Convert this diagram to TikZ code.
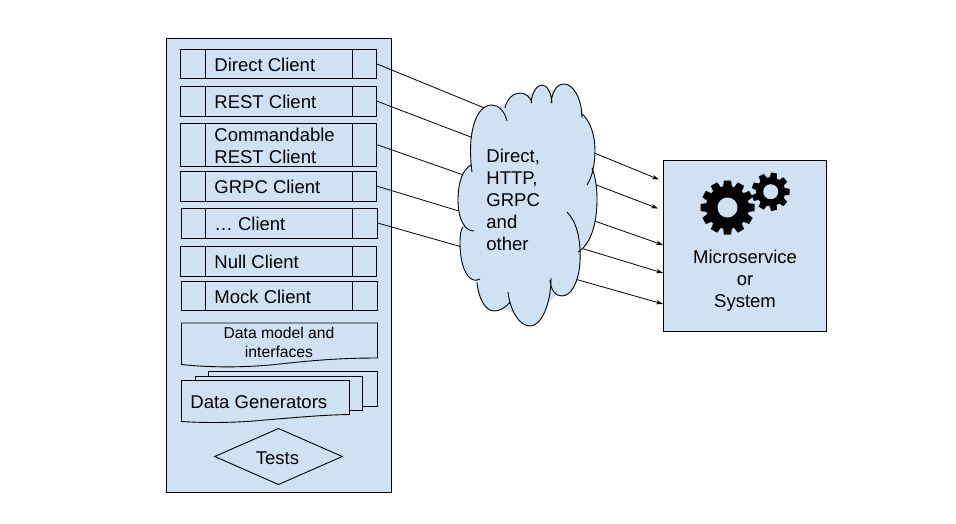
\documentclass[tikz,border=0pt]{standalone}
\usepackage{fontspec}
\setmainfont{Liberation Sans}
\usetikzlibrary{arrows.meta, shapes.geometric}
\definecolor{paleblue}{HTML}{CFE2F3}
\newcommand{\cloudlobes}{
	(472,172) .. controls (467,135) and (475,105) .. (492,105) .. controls (499,105) and (505,112) .. (507,121)
	(505,108) .. controls (507,98) and (514,93) .. (520,93) .. controls (525,93) and (530,96) .. (532,103)
	(531,103) .. controls (532,92) and (537,85) .. (542,85) .. controls (547,85) and (551,92) .. (552,103)
	(551,103) .. controls (552,93) and (556,84) .. (564,84) .. controls (574,84) and (582,100) .. (582,118)
	(581,113) .. controls (590,120) and (595,135) .. (595,150) .. controls (595,165) and (592,177) .. (587,185)
	(592,168) .. controls (596,178) and (597,190) .. (597,200) .. controls (597,225) and (590,245) .. (578,252)
	(567,212) .. controls (577,222) and (581,240) .. (580,262) .. controls (579,280) and (572,296) .. (562,296) .. controls (555,296) and (551,290) .. (550,280)
	(551,278) .. controls (551,305) and (541,326) .. (530,326) .. controls (519,326) and (510,310) .. (508,292)
	(510,302) .. controls (505,308) and (500,311) .. (494,311) .. controls (485,311) and (478,297) .. (477,282)
	(480,279) .. controls (470,285) and (460,270) .. (460,243) .. controls (460,235) and (461,229) .. (463,227)
	(474,231) .. controls (464,231) and (458,218) .. (458,200) .. controls (458,182) and (463,169) .. (471,165)
}
\begin{document}
\begin{tikzpicture}[x=1pt, y=-1pt, line width=.9pt,
	shapebox/.style={draw=black, fill=paleblue, outer sep=0pt, inner sep=0pt},
	paper/.style={draw=black, fill=paleblue},
	label/.style={font=\fontsize{18.5}{22}\selectfont, align=left, inner sep=0pt},
	smalllabel/.style={font=\fontsize{15.7}{19}\selectfont, align=center, inner sep=0pt},
	centerlabel/.style={font=\fontsize{18.5}{22}\selectfont, align=center, inner sep=0pt},
	connector/.style={-{Stealth[length=7pt, width=4.5pt]}, line width=.8pt}]
	\useasboundingbox (0,0) rectangle (956,523);
	\node[shapebox, minimum width=225pt, minimum height=454pt] (panel) at (279,265.5) {};
	\node[shapebox, minimum width=163pt, minimum height=170.5pt] (service) at (745,245.75) {};
	% clients
	\foreach \name/\cx/\cy/\ch/\ctext in {
		direct/278.5/63.75/28.5/Direct Client,
		rest/278.5/101/30/REST Client,
		commandable/278.5/144.5/43/{Commandable\\REST Client},
		grpc/278.5/186/30/GRPC Client,
		other/279.5/223/30/\ldots{} Client,
		nullc/278.5/261/30/Null Client,
		mock/279.5/296/29/Mock Client} {
		\node[shapebox, minimum width=196pt, minimum height=\ch pt] (\name) at (\cx,\cy) {};
		\draw (205.5,\cy-\ch/2) -- (205.5,\cy+\ch/2);
		\draw (352.5,\cy-\ch/2) -- (352.5,\cy+\ch/2);
		\node[label, anchor=west] (\name-label) at (214,\cy+1) {\ctext};
	}
	% documents
	\draw[paper] (181.5,323) -- (377.5,323) -- (377.5,358) .. controls (330,358) and (300,362) .. (270,365) .. controls (235,368) and (205,367) .. (181.5,364.5) -- cycle;
	\node[smalllabel] (model-label) at (279,342.5) {Data model and\\interfaces};
	\draw[paper] (208,371) -- (377.5,371) -- (377.5,406.5) -- (208,406.5) -- cycle;
	\draw[paper] (195.5,376.5) -- (362.5,376.5) -- (362.5,410.5) -- (195.5,410.5) -- cycle;
	\draw[paper] (181.5,380.5) -- (349.5,380.5) -- (349.5,414.5) .. controls (320,415) and (290,418) .. (265,420) .. controls (235,423) and (205,423) .. (181.5,421.5) -- cycle;
	\node[label, anchor=west] (generators-label) at (190,402.5) {Data Generators};
	\node[shapebox, diamond, minimum width=127.5pt, minimum height=56pt] (tests) at (278.5,456.5) {};
	\node[centerlabel] (tests-label) at (277.5,458) {Tests};
	% connectors, the cloud covers their middle
	\coordinate (direct-end) at (659,179.5);
	\coordinate (rest-end) at (658,208.5);
	\coordinate (commandable-end) at (663,245);
	\coordinate (grpc-end) at (663,273);
	\coordinate (other-end) at (663,304);
	\foreach \name in {direct, rest, commandable, grpc, other}
		\draw[connector] (\name.east) -- (\name-end);
	% cloud
	\fill[paleblue] (470,170) -- (492,110) -- (520,97) -- (542,90) -- (564,90) -- (590,130) -- (592,200) -- (575,255) -- (562,290) -- (530,320) -- (494,305) -- (465,260) -- (462,200) -- cycle;
	\fill[paleblue] \cloudlobes;
	\draw \cloudlobes;
	\node[label, anchor=west] (cloud-label) at (486,200) {Direct,\\HTTP,\\GRPC\\and\\other};
	% gears
	\foreach \gearx/\geary/\rootr/\tipr/\holer/\teeth/\toothw in {727.5/207.5/21.5/27/10/12/3.6, 770.7/191.7/14.5/19/7.5/9/2.9} {
		\fill[black] (\gearx,\geary) circle[radius=\rootr];
		\foreach \tooth in {1,...,\teeth}
			\fill[black, shift={(\gearx,\geary)}, rotate=\tooth*360/\teeth] (\rootr-1,-\toothw-.8) -- (\tipr,-\toothw) -- (\tipr,\toothw) -- (\rootr-1,\toothw+.8) -- cycle;
		\fill[paleblue] (\gearx,\geary) circle[radius=\holer];
	}
	\node[centerlabel] (service-label) at (745,280.5) {Microservice\\or\\System};
\end{tikzpicture}
\end{document}
